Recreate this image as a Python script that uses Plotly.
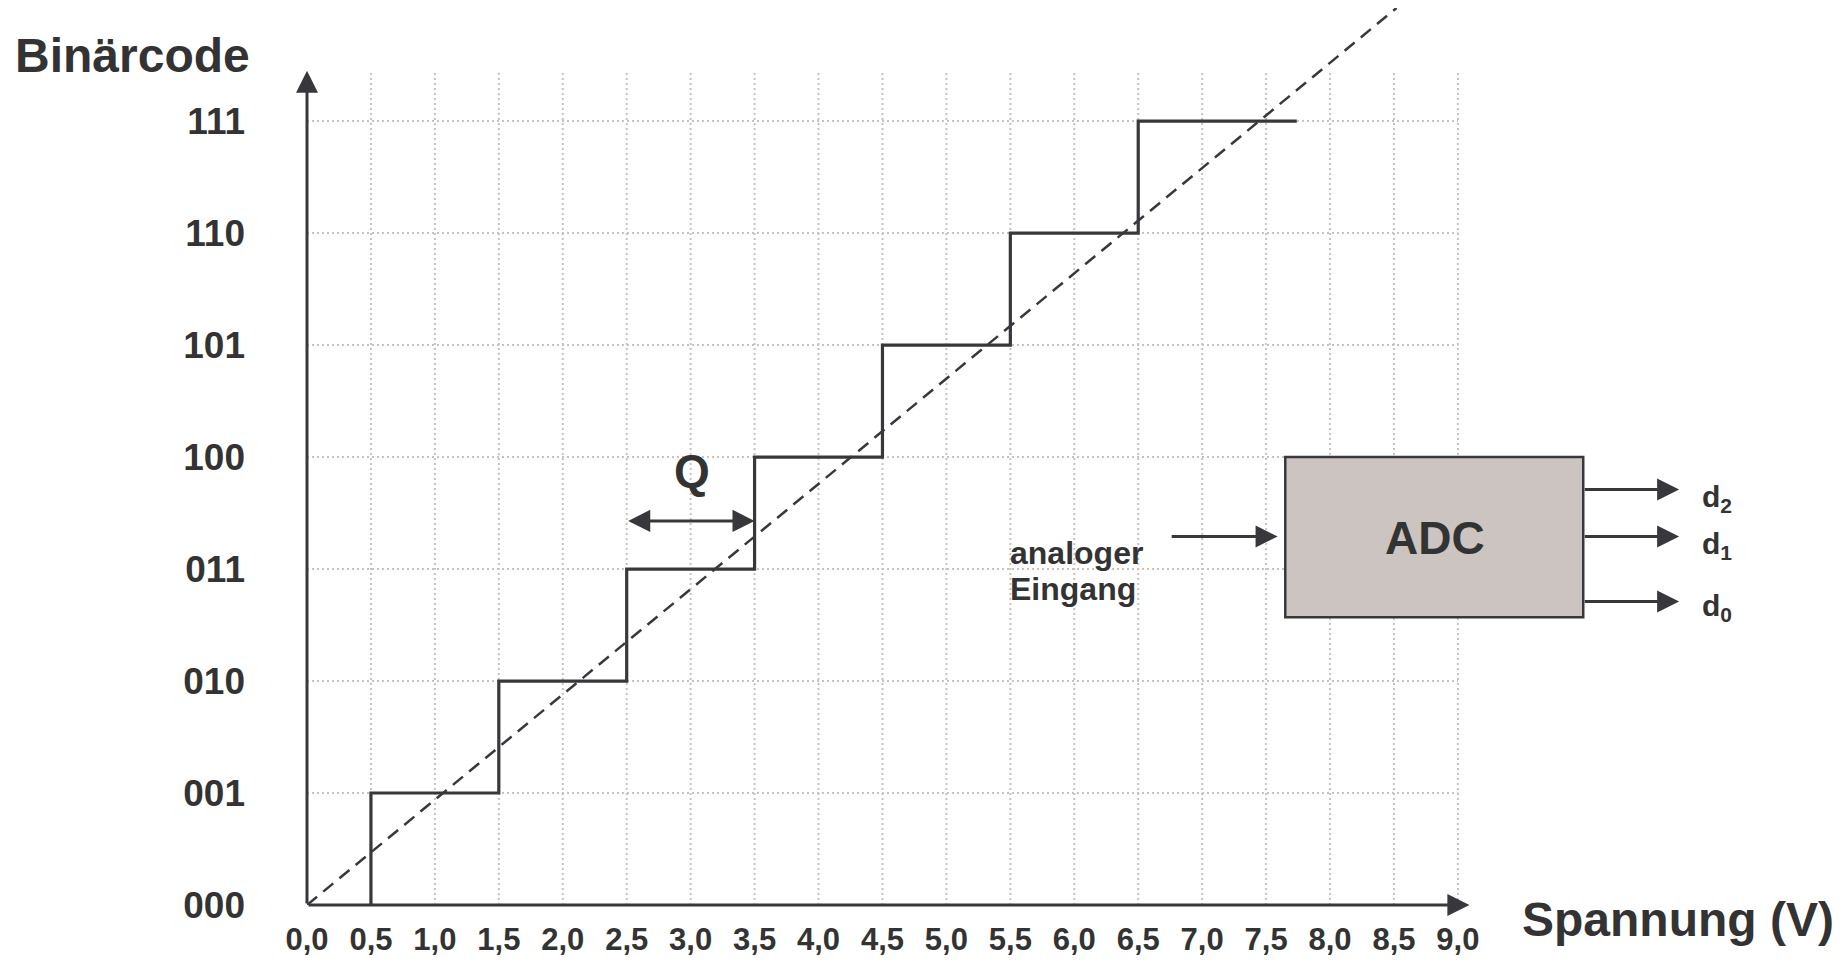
import plotly.graph_objects as go

# ---- data ----
volt_ticks = [0.0, 0.5, 1.0, 1.5, 2.0, 2.5, 3.0, 3.5, 4.0, 4.5, 5.0, 5.5, 6.0, 6.5, 7.0, 7.5, 8.0, 8.5, 9.0]
volt_labels = ["0,0", "0,5", "1,0", "1,5", "2,0", "2,5", "3,0", "3,5", "4,0", "4,5",
               "5,0", "5,5", "6,0", "6,5", "7,0", "7,5", "8,0", "8,5", "9,0"]
code_ticks = [0, 1, 2, 3, 4, 5, 6, 7]
code_labels = ["000", "001", "010", "011", "100", "101", "110", "111"]

# quantisation staircase: thresholds (V) and output code
step_volts = [0.5, 0.5, 1.5, 2.5, 3.5, 4.5, 5.5, 6.5, 7.74]
step_codes = [0, 1, 2, 3, 4, 5, 6, 7, 7]

# ideal (unquantised) characteristic
ideal_volts = [0.0, 8.52]
ideal_codes = [0.0, 8.01]

grid_top = 7.45
axis_x_end = 9.09

DARK = "#38383c"
TXT = "#333333"
GRID = "#c9c1bc"
FONT = "Liberation Sans, Arial, sans-serif"

fig = go.Figure()

# grid lines (dotted)
gx, gy = [], []
for v in volt_ticks[1:]:
    gx += [v, v, None]
    gy += [0, grid_top, None]
for c in code_ticks[1:]:
    gx += [0, volt_ticks[-1], None]
    gy += [c, c, None]
fig.add_trace(go.Scatter(x=gx, y=gy, mode="lines",
                         line=dict(color=GRID, width=2, dash="2px,3px"),
                         hoverinfo="skip", showlegend=False))

# ideal line
fig.add_trace(go.Scatter(x=ideal_volts, y=ideal_codes, mode="lines",
                         line=dict(color=DARK, width=2.5, dash="13px,8px"),
                         showlegend=False))

# staircase
fig.add_trace(go.Scatter(x=step_volts, y=step_codes, mode="lines",
                         line=dict(color=DARK, width=3.2, shape="hv"),
                         showlegend=False))

annotations = []

def arrow(x0, y0, x1, y1, width=3, size=1.47, side="end"):
    annotations.append(dict(x=x1, y=y1, ax=x0, ay=y0, xref="x", yref="y",
                            axref="x", ayref="y", text="", showarrow=True,
                            arrowhead=2, startarrowhead=2, arrowside=side,
                            arrowwidth=width, arrowsize=size, startarrowsize=size,
                            arrowcolor=DARK, standoff=0, startstandoff=0))

# axes with arrow heads
arrow(0, 0, 0, grid_top)
arrow(0, 0, axis_x_end, 0)

# Q marker
arrow(2.5, 3.43, 3.5, 3.43, side="end+start")
annotations.append(dict(x=3.01, y=3.88, xref="x", yref="y", text="<b>Q</b>",
                        xanchor="center", yanchor="middle",
                        showarrow=False, font=dict(family=FONT, size=46, color=TXT)))

# ADC block
adc_x = [7.65, 9.98]
adc_y = [2.57, 4.0]
fig.add_shape(type="rect", x0=adc_x[0], x1=adc_x[1], y0=adc_y[0], y1=adc_y[1],
              xref="x", yref="y", fillcolor="#cbc4c1",
              line=dict(color=DARK, width=2.5), layer="above")
annotations.append(dict(x=8.82, y=3.28, xref="x", yref="y", text="<b>ADC</b>",
                        xanchor="center", yanchor="middle",
                        showarrow=False, font=dict(family=FONT, size=46, color=TXT)))

# input arrow and label
arrow(6.75, 3.29, 7.59, 3.29)
annotations.append(dict(x=5.48, y=3.14, xref="x", yref="y", text="<b>analoger</b>",
                        xanchor="left", yanchor="middle", showarrow=False,
                        font=dict(family=FONT, size=32, color=TXT)))
annotations.append(dict(x=5.48, y=2.82, xref="x", yref="y", text="<b>Eingang</b>",
                        xanchor="left", yanchor="middle", showarrow=False,
                        font=dict(family=FONT, size=32, color=TXT)))

# output arrows d2, d1, d0
out_levels = [3.71, 3.29, 2.71]
out_labels = ["d<sub>2</sub>", "d<sub>1</sub>", "d<sub>0</sub>"]
label_levels = [3.63, 3.21, 2.66]
for lv, lab, ll in zip(out_levels, out_labels, label_levels):
    arrow(adc_x[1], lv, 10.73, lv)
    annotations.append(dict(x=10.89, y=ll, xref="x", yref="y", text="<b>" + lab + "</b>",
                            xanchor="left", yanchor="middle", showarrow=False,
                            font=dict(family=FONT, size=30, color=TXT)))

# axis titles
annotations.append(dict(x=-0.1142, y=0.9465, xref="paper", yref="paper",
                        xanchor="center", yanchor="middle",
                        text="<b>Binärcode</b>", showarrow=False,
                        font=dict(family=FONT, size=48, color=TXT)))
annotations.append(dict(x=0.8949, y=-0.0167, xref="paper", yref="paper",
                        xanchor="center", yanchor="middle",
                        text="<b>Spannung (V)</b>", showarrow=False,
                        font=dict(family=FONT, size=48, color=TXT)))

fig.update_layout(
    width=1831, height=949,
    margin=dict(l=299, r=0, t=0, b=52, autoexpand=False),
    paper_bgcolor="white", plot_bgcolor="white",
    showlegend=False,
    annotations=annotations,
    xaxis=dict(range=[0, 11.98], tickvals=volt_ticks, ticktext=["<b>%s</b>" % t for t in volt_labels],
               showgrid=False, zeroline=False, showline=False, ticks="",
               ticklabelstandoff=13, automargin=False,
               tickfont=dict(family=FONT, size=31, color=TXT), fixedrange=True),
    yaxis=dict(range=[0, 8.01], tickvals=code_ticks, ticktext=["<b>%s</b>" % t for t in code_labels],
               showgrid=False, zeroline=False, showline=False, ticks="",
               ticklabelstandoff=61, automargin=False,
               tickfont=dict(family=FONT, size=37, color=TXT), fixedrange=True),
)

fig.write_html("out.html")
